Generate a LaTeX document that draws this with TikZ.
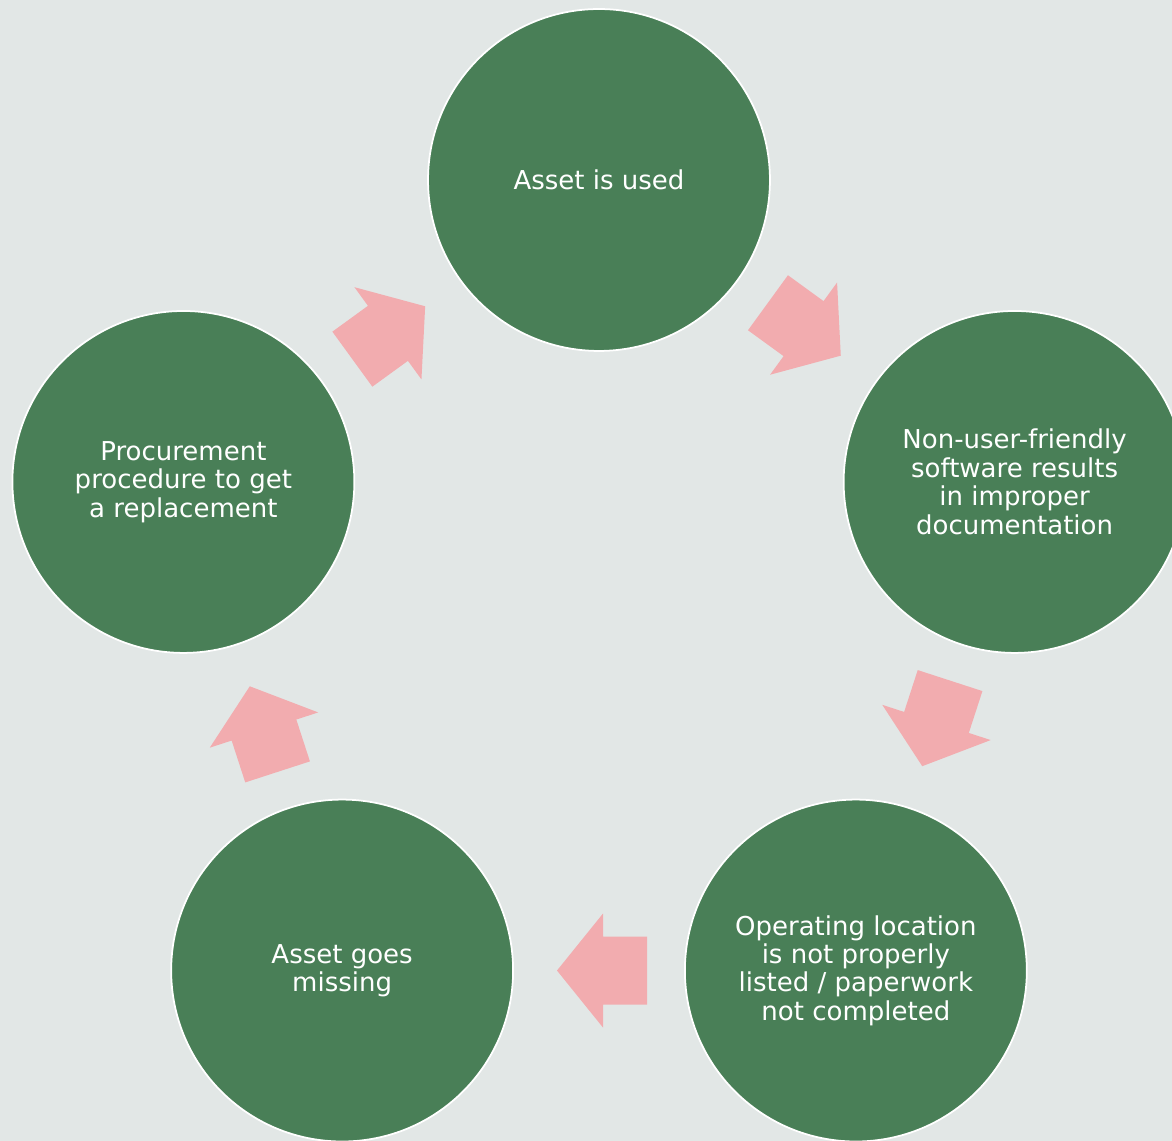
\documentclass[tikz,border=0pt]{standalone}
\usepackage{fontspec}
\setmainfont{DejaVu Sans}
\usetikzlibrary{calc}
\definecolor{bggray}{RGB}{226,231,230}
\definecolor{stepgreen}{RGB}{73,127,87}
\definecolor{arrowpink}{RGB}{242,172,175}
\tikzset{
  stage/.style={circle,fill=stepgreen,draw=white,line width=1pt,minimum size=6.84cm,
    inner sep=0pt,text=white,align=center,font=\fontsize{14.8}{16.2}\selectfont},
  blockarrow/.style={fill=arrowpink},
}

\begin{document}
\begin{tikzpicture}[x=0.02cm,y=0.02cm]
    \fill[bggray] (-599,-524) rectangle (573,617);
    \useasboundingbox (-599,-524) rectangle (573,617);
    \node[stage] (used) at (90:437) {Asset is used};
    \node[stage] (soft) at (18:437) {Non-user-friendly\\software results\\in improper\\documentation};
    \node[stage] (loc) at (-54:437) {Operating location\\is not properly\\listed / paperwork\\not completed};
    \node[stage] (miss) at (-126:437) {Asset goes\\missing};
    \node[stage] (proc) at (162:437) {Procurement\\procedure to get\\a replacement};
    \foreach \p/\q/\a in {used/soft/-36,soft/loc/-108,loc/miss/-180,miss/proc/108,proc/used/36}
      \fill[blockarrow,shift={($(\p)!0.5!(\q)$)},rotate=\a]
        (-48,-34) -- (-4,-34) -- (-4,-57) -- (42,0) -- (-4,57) -- (-4,34) -- (-48,34) -- cycle;
  \end{tikzpicture}
\end{document}
